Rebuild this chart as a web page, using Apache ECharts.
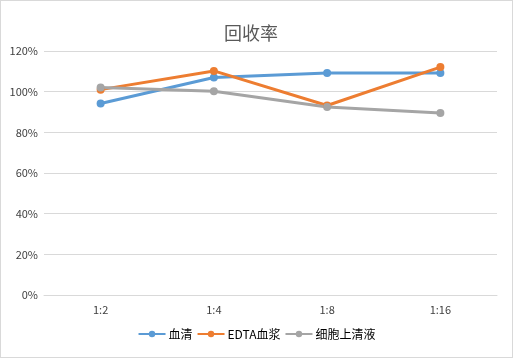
<!DOCTYPE html>
<html><head><meta charset="utf-8">
<script src="https://cdn.jsdelivr.net/npm/echarts@6/dist/echarts.min.js"></script>
<style>html,body{margin:0;padding:0;background:#fff}#c{width:513px;height:358px;box-sizing:border-box;border:1px solid #d9d9d9}</style>
</head><body><div id="c"></div>
<script>
const categories = ['1:2','1:4','1:8','1:16'];
const serum = [0.942, 1.070, 1.092, 1.092];
const edta = [1.010, 1.102, 0.932, 1.121];
const supernatant = [1.020, 1.002, 0.925, 0.895];
const names = ['血清','EDTA血浆','细胞上清液'];
const colors = ['#5B9BD5','#ED7D31','#A5A5A5'];
const font = '"Microsoft YaHei","Noto Sans CJK SC",sans-serif';
const chart = echarts.init(document.getElementById('c'));
function s(name, data, color){
  return {name, type:'line', data, color, symbol:'circle', symbolSize:8,
    lineStyle:{width:3, color}, itemStyle:{color}};
}
chart.setOption({
  animation:false,
  title:{text:'回收率', left:218, top:18, textStyle:{fontSize:18, fontWeight:'normal', color:'#595959', fontFamily:font}},
  legend:{bottom:12, left:'center', itemGap:4, itemWidth:27, itemHeight:8, textStyle:{fontSize:12, color:'#000', fontFamily:font, padding:[0,0,0,-2]}, data:names},
  grid:{left:43, right:15, top:50, bottom:62, containLabel:false},
  xAxis:{type:'category', data:categories, boundaryGap:true,
    axisLine:{show:true, lineStyle:{color:'#d9d9d9'}}, axisTick:{show:false},
    axisLabel:{color:'#404040', fontSize:11, margin:9, fontFamily:font}},
  yAxis:{type:'value', min:0, max:1.2, interval:0.2,
    axisLine:{show:false}, axisTick:{show:false},
    splitLine:{lineStyle:{color:'#d9d9d9'}},
    axisLabel:{color:'#404040', fontSize:11, margin:6, fontFamily:font, formatter:v=>Math.round(v*100)+'%'}},
  series:[s(names[0], serum, colors[0]), s(names[1], edta, colors[1]), s(names[2], supernatant, colors[2])]
});
</script></body></html>
